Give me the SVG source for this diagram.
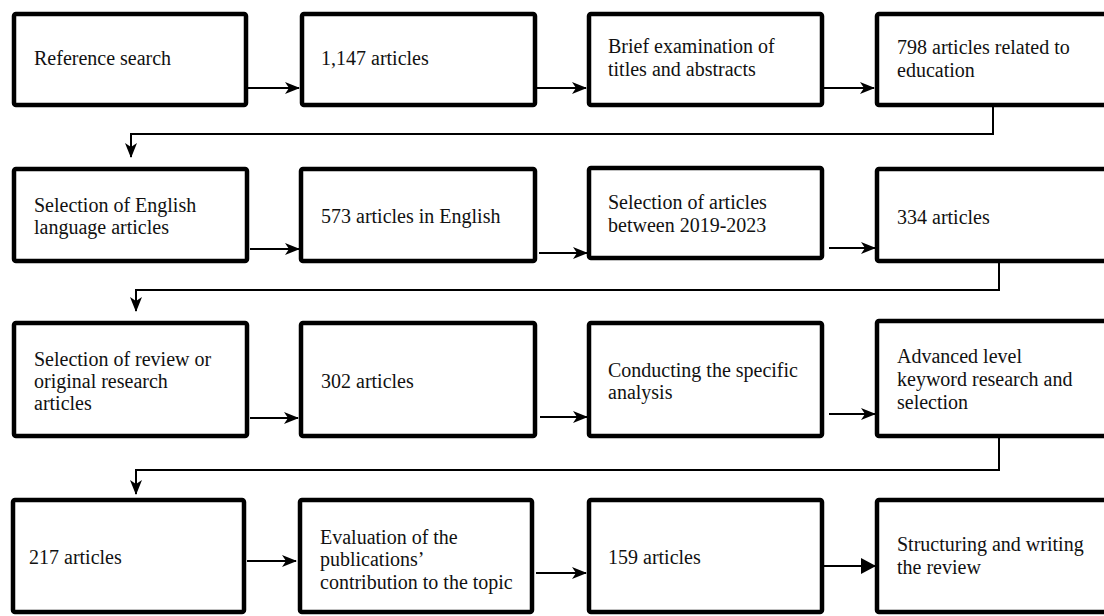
<svg xmlns="http://www.w3.org/2000/svg" width="1104" height="616" viewBox="0 0 1104 616">
<style>
.box{fill:#fff;stroke:#000;stroke-width:4.5;}
text{font-family:'Liberation Serif','Times New Roman',serif;font-size:20px;fill:#111;}
.c{fill:none;stroke:#000;stroke-width:2;}
</style>
<defs>
<marker id="ah" markerUnits="userSpaceOnUse" markerWidth="15" markerHeight="14" viewBox="0 0 15 14" refX="14" refY="7" orient="auto">
<path d="M0,1 L15,7 L0,13 L4,7 z" fill="#000"/>
</marker>
<marker id="tri" markerUnits="userSpaceOnUse" markerWidth="15" markerHeight="16" viewBox="0 0 15 16" refX="14" refY="8" orient="auto">
<path d="M0,0 L15,8 L0,16 z" fill="#000"/>
</marker>
</defs>
<rect width="1104" height="616" fill="#fff"/>
<g id="n1"><rect class="box" x="14" y="14" width="232" height="91" rx="2"/><text x="34" y="65">Reference search</text></g>
<g id="n2"><rect class="box" x="302" y="14" width="233" height="91" rx="2"/><text x="321" y="65">1,147 articles</text></g>
<g id="n3"><rect class="box" x="589" y="14" width="233" height="91" rx="2"/><text x="608" y="53">Brief examination of</text><text x="608" y="76">titles and abstracts</text></g>
<g id="n4"><rect class="box" x="877" y="14" width="240" height="91" rx="2"/><text x="897" y="54">798 articles related to</text><text x="897" y="77">education</text></g>

<g id="n5"><rect class="box" x="14" y="169" width="233" height="92" rx="2"/><text x="34" y="212">Selection of English</text><text x="34" y="234">language articles</text></g>
<g id="n6"><rect class="box" x="301" y="169" width="234" height="92" rx="2"/><text x="321" y="223">573 articles in English</text></g>
<g id="n7"><rect class="box" x="589" y="168" width="233" height="90" rx="2"/><text x="608" y="209">Selection of articles</text><text x="608" y="232">between 2019-2023</text></g>
<g id="n8"><rect class="box" x="877" y="169" width="240" height="92" rx="2"/><text x="897" y="224">334 articles</text></g>

<g id="n9"><rect class="box" x="14" y="323" width="233" height="113" rx="2"/><text x="34" y="366">Selection of review or</text><text x="34" y="388">original research</text><text x="34" y="410">articles</text></g>
<g id="n10"><rect class="box" x="301" y="323" width="234" height="113" rx="2"/><text x="321" y="388">302 articles</text></g>
<g id="n11"><rect class="box" x="589" y="323" width="233" height="113" rx="2"/><text x="608" y="377">Conducting the specific</text><text x="608" y="399">analysis</text></g>
<g id="n12"><rect class="box" x="877" y="321" width="240" height="115" rx="2"/><text x="897" y="363">Advanced level</text><text x="897" y="386">keyword research and</text><text x="897" y="409">selection</text></g>

<g id="n13"><rect class="box" x="13" y="500" width="231" height="112" rx="2"/><text x="29" y="564">217 articles</text></g>
<g id="n14"><rect class="box" x="300" y="500" width="232" height="112" rx="2"/><text x="320" y="544">Evaluation of the</text><text x="320" y="566">publications’</text><text x="320" y="589">contribution to the topic</text></g>
<g id="n15"><rect class="box" x="589" y="500" width="233" height="112" rx="2"/><text x="608" y="564">159 articles</text></g>
<g id="n16"><rect class="box" x="877" y="500" width="240" height="112" rx="2"/><text x="897" y="551">Structuring and writing</text><text x="897" y="574">the review</text></g>

<g id="connectors">
<line class="c" x1="248" y1="88" x2="299" y2="88" marker-end="url(#ah)"/>
<line class="c" x1="537" y1="88" x2="586" y2="88" marker-end="url(#ah)"/>
<line class="c" x1="824" y1="88" x2="874" y2="88" marker-end="url(#ah)"/>
<polyline class="c" points="993,107 993,134 131,134 131,157" marker-end="url(#ah)"/>

<line class="c" x1="250" y1="249" x2="299" y2="249" marker-end="url(#ah)"/>
<line class="c" x1="539" y1="253" x2="587" y2="253" marker-end="url(#ah)"/>
<line class="c" x1="829" y1="248" x2="875" y2="248" marker-end="url(#ah)"/>
<polyline class="c" points="999,263 999,290 136,290 136,311" marker-end="url(#ah)"/>

<line class="c" x1="250" y1="418" x2="298" y2="418" marker-end="url(#ah)"/>
<line class="c" x1="540" y1="417" x2="587" y2="417" marker-end="url(#ah)"/>
<line class="c" x1="829" y1="414" x2="875" y2="414" marker-end="url(#ah)"/>
<polyline class="c" points="999,438 999,470 136,470 136,494" marker-end="url(#ah)"/>

<line class="c" x1="247" y1="561" x2="296" y2="561" marker-end="url(#ah)"/>
<line class="c" x1="536" y1="573" x2="586" y2="573" marker-end="url(#ah)"/>
<line class="c" x1="824" y1="566" x2="875" y2="566" marker-end="url(#tri)"/>
</g>
</svg>
